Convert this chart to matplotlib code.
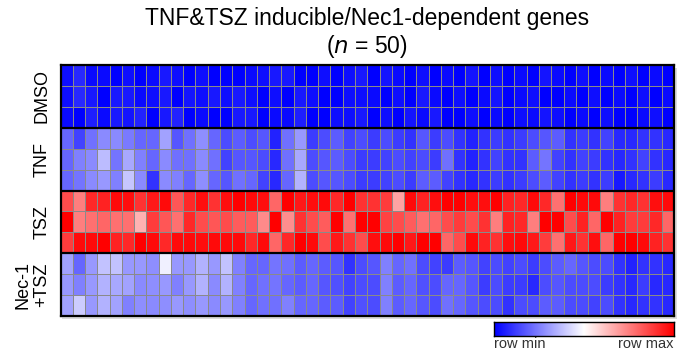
import numpy as np
import matplotlib.pyplot as plt
from matplotlib.colors import LinearSegmentedColormap

plt.rcParams['font.family'] = ['Liberation Sans', 'DejaVu Sans']

# row-scaled expression, 0 = row min, 1 = row max (50 genes per row)
dmso = [
    [0.03,0.08,0.02,0.02,0.0,0.03,0.0,0.02,0.05,0.03,0.0,0.03,0.0,0.0,0.0,0.02,0.03,0.05,0.05,0.0,0.0,0.03,0.0,0.03,0.05,
     0.0,0.04,0.02,0.0,0.03,0.0,0.02,0.0,0.04,0.0,0.03,0.0,0.02,0.0,0.04,0.02,0.0,0.03,0.0,0.02,0.0,0.03,0.0,0.02,0.0],
    [0.03,0.08,0.05,0.0,0.05,0.05,0.02,0.03,0.05,0.0,0.04,0.03,0.05,0.03,0.05,0.03,0.0,0.03,0.0,0.05,0.03,0.0,0.0,0.03,0.03,
     0.02,0.0,0.03,0.0,0.05,0.02,0.0,0.03,0.0,0.02,0.04,0.0,0.02,0.03,0.0,0.0,0.02,0.0,0.03,0.0,0.02,0.0,0.03,0.0,0.02],
    [0.02,0.0,0.06,0.02,0.05,0.04,0.07,0.0,0.05,0.07,0.0,0.02,0.0,0.0,0.05,0.05,0.0,0.02,0.02,0.06,0.0,0.0,0.03,0.03,0.05,
     0.0,0.03,0.0,0.04,0.02,0.05,0.0,0.0,0.03,0.0,0.02,0.0,0.03,0.02,0.04,0.03,0.0,0.02,0.0,0.03,0.0,0.0,0.02,0.03,0.0],
]
tnf = [
    [0.2,0.13,0.22,0.27,0.27,0.24,0.2,0.2,0.32,0.17,0.22,0.28,0.2,0.15,0.18,0.15,0.17,0.07,0.22,0.3,0.12,0.15,0.18,0.13,0.15,
     0.12,0.15,0.12,0.1,0.17,0.12,0.15,0.1,0.07,0.1,0.12,0.1,0.12,0.15,0.17,0.18,0.1,0.12,0.1,0.13,0.08,0.08,0.1,0.1,0.08],
    [0.2,0.25,0.27,0.37,0.23,0.33,0.25,0.2,0.27,0.22,0.22,0.27,0.22,0.13,0.17,0.17,0.15,0.08,0.22,0.33,0.15,0.17,0.18,0.15,0.12,
     0.12,0.13,0.15,0.13,0.15,0.12,0.22,0.1,0.07,0.1,0.13,0.1,0.1,0.18,0.23,0.13,0.1,0.13,0.12,0.1,0.08,0.1,0.13,0.1,0.08],
    [0.2,0.23,0.27,0.3,0.25,0.39,0.27,0.1,0.27,0.25,0.2,0.28,0.2,0.17,0.22,0.2,0.13,0.08,0.2,0.35,0.15,0.17,0.17,0.15,0.12,
     0.12,0.13,0.15,0.12,0.18,0.18,0.13,0.1,0.08,0.1,0.12,0.1,0.12,0.15,0.18,0.13,0.1,0.12,0.1,0.12,0.05,0.08,0.1,0.12,0.08],
]
tsz = [
    [0.85,0.75,0.92,0.93,0.98,0.97,0.9,0.95,0.98,0.83,0.92,0.97,0.9,0.97,1.0,0.98,0.97,0.8,1.0,0.95,0.97,0.98,0.92,1.0,0.9,
     0.9,0.88,0.68,0.98,0.93,0.97,1.0,1.0,0.97,0.97,1.0,0.93,0.92,0.98,0.92,0.78,1.0,0.98,0.98,0.75,0.9,0.92,0.9,0.97,0.98],
    [1.0,0.75,0.78,0.8,0.78,0.78,0.65,0.88,0.83,0.78,0.92,0.85,0.83,0.85,0.82,0.82,0.73,1.0,0.72,0.9,0.85,0.82,1.0,0.78,1.0,
     1.0,0.87,0.85,0.82,0.78,0.8,0.85,0.88,0.85,0.9,0.75,0.93,0.92,0.75,1.0,1.0,0.85,0.93,0.8,1.0,0.93,0.88,0.88,0.92,0.8],
    [0.88,0.98,0.98,1.0,0.93,0.92,1.0,0.98,0.92,0.98,0.98,0.97,0.98,0.98,0.98,0.92,0.98,0.8,0.92,1.0,0.98,0.85,0.95,0.9,0.85,
     0.97,0.98,1.0,0.95,1.0,1.0,0.8,0.85,0.98,0.93,0.9,0.97,0.98,0.95,0.88,0.78,0.95,0.9,0.97,0.8,1.0,1.0,0.98,0.93,0.9],
]
nec1_tsz = [
    [0.32,0.2,0.3,0.38,0.38,0.3,0.3,0.28,0.47,0.3,0.3,0.35,0.3,0.38,0.25,0.2,0.2,0.23,0.22,0.18,0.2,0.18,0.17,0.1,0.15,
     0.17,0.25,0.2,0.22,0.15,0.13,0.12,0.18,0.17,0.13,0.15,0.13,0.15,0.12,0.15,0.18,0.2,0.17,0.15,0.15,0.1,0.07,0.1,0.1,0.08],
    [0.3,0.25,0.3,0.35,0.33,0.32,0.27,0.28,0.3,0.25,0.3,0.35,0.27,0.35,0.25,0.2,0.22,0.23,0.2,0.18,0.2,0.17,0.16,0.13,0.15,
     0.15,0.25,0.18,0.2,0.16,0.15,0.2,0.2,0.17,0.12,0.15,0.12,0.12,0.08,0.15,0.17,0.15,0.15,0.15,0.12,0.1,0.08,0.12,0.08,0.08],
    [0.32,0.4,0.3,0.35,0.32,0.25,0.28,0.27,0.28,0.3,0.28,0.3,0.27,0.3,0.25,0.2,0.22,0.22,0.25,0.2,0.2,0.18,0.18,0.13,0.16,
     0.15,0.25,0.18,0.2,0.17,0.15,0.22,0.2,0.17,0.15,0.15,0.1,0.15,0.15,0.18,0.18,0.15,0.15,0.13,0.15,0.1,0.08,0.1,0.1,0.08],
]
groups = ['DMSO', 'TNF', 'TSZ', 'Nec-1\n+TSZ']

data = np.array(dmso + tnf + tsz + nec1_tsz)
n_rows, n_cols = data.shape

cmap = LinearSegmentedColormap.from_list('bwr_row', ['#0000ff', '#ffffff', '#ff0000'])

fig = plt.figure(figsize=(6.86, 3.56), dpi=100)

# soft shadow behind the heatmap
shadow = fig.add_axes([62.5 / 686, 37 / 356, 614 / 686, 251 / 356], zorder=0)
shadow.set_facecolor('#dcdcdc')
shadow.set_xticks([])
shadow.set_yticks([])
for s in shadow.spines.values():
    s.set_visible(False)

# heatmap
ax = fig.add_axes([60.5 / 686, 40 / 356, 613.5 / 686, 251 / 356], zorder=1)
ax.pcolormesh(data, cmap=cmap, vmin=0, vmax=1, edgecolors='#8a8a8a', linewidth=0.55)
ax.set_xlim(0, n_cols)
ax.set_ylim(n_rows, 0)
for y in [3, 6, 9]:
    ax.axhline(y, color='black', lw=1.6)
ax.set_xticks([])
ax.set_yticks([])
for s in ax.spines.values():
    s.set_linewidth(1.6)
    s.set_color('black')

# group labels
for i, g in enumerate(groups):
    yc = 1 - (65 + (i + 0.5) * 251 / 4) / 356
    xc = 32 / 686 if '\n' in g else 42 / 686
    fig.text(xc, yc, g, rotation=90, ha='center', va='center', fontsize=13,
             linespacing=1.1)

fig.text(367 / 686, 1 - 19 / 356, 'TNF&TSZ inducible/Nec1-dependent genes',
         ha='center', va='center', fontsize=16.5)
fig.text(367 / 686, 1 - 46 / 356, r'($\it{n}$ = 50)', ha='center', va='center',
         fontsize=16.5)

# colour key
cax = fig.add_axes([494 / 686, 20 / 356, 180 / 686, 14 / 356])
cax.imshow(np.linspace(0, 1, 256)[None, :], cmap=cmap, aspect='auto',
           extent=[0, 1, 0, 1])
cax.set_xticks([])
cax.set_yticks([])
for s in cax.spines.values():
    s.set_linewidth(1.0)
fig.text(494 / 686, 1 - 344 / 356, 'row min', ha='left', va='center',
         fontsize=10.5, color='#333333')
fig.text(674 / 686, 1 - 344 / 356, 'row max', ha='right', va='center',
         fontsize=10.5, color='#333333')

fig.savefig('out.png', dpi=100)
